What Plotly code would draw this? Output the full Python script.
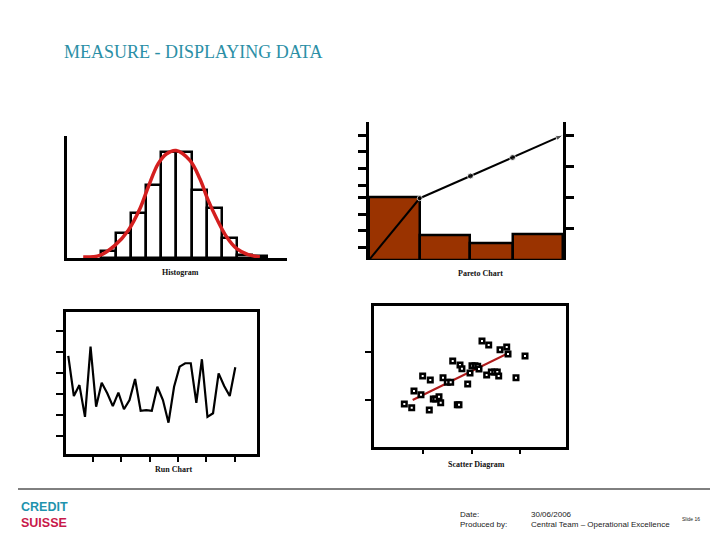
import plotly.graph_objects as go
import numpy as np

W, H = 720, 540

# ---------------- data ----------------
# Histogram
hist_bins = [0.5, 1.5, 2.5, 3.5, 4.5, 5.5, 6.5, 7.5, 8.5, 9.5, 10.5]
hist_freq = [7.5, 25, 45, 73.5, 106.5, 106.5, 68.5, 50, 20, 3.5, 2]
curve_x = [-1.15, -0.05, 0.94, 1.82, 2.59, 3.14, 3.80, 4.36, 4.97, 5.89, 6.55, 7.10, 7.66, 8.32, 8.98, 9.74, 10.51]
curve_y = [1, 2.6, 12.6, 27.6, 49.3, 71, 94.3, 104.3, 107.5, 97.6, 79.3, 57.6, 39.3, 21, 9.3, 3.3, 1]

# Pareto
pareto_counts = [50, 20, 13.4, 20.6]
pareto_cum_pct = [0, 49.4, 67.2, 82, 100]
pareto_left_ticks = [9.8, 23.4, 36.8, 49.8, 60, 73.4, 86.6, 100]
pareto_right_ticks = [25, 50, 75, 100]

# Run chart
run_y = [4.80, 2.89, 3.41, 1.90, 5.24, 2.38, 3.52, 3.02, 2.41, 3.05, 2.26, 2.70, 3.70,
         2.19, 2.22, 2.19, 3.33, 2.70, 1.62, 3.33, 4.29, 4.45, 4.45, 2.57, 4.64, 1.90,
         2.07, 3.97, 3.37, 2.89, 4.26]
run_ticks_y = [1, 2, 3, 4, 5, 6]

# Scatter
sc_x = [0.607, 0.76, 0.807, 0.952, 0.987, 1.124, 1.145, 1.207, 1.257, 1.325, 1.36, 1.408,
        1.497, 1.567, 1.609, 1.704, 1.739, 1.76, 1.80, 1.919, 1.967, 2.008, 2.07, 2.126,
        2.153, 2.215, 2.312, 2.354, 2.408, 2.478, 2.532, 2.561, 2.588, 2.727, 2.754, 2.919, 3.106]
sc_y = [0.917, 0.84, 1.186, 1.11, 1.497, 0.793, 1.414, 1.021, 1.021, 1.069, 0.945, 1.462,
        1.366, 1.366, 1.807, 0.903, 0.903, 1.725, 1.648, 1.331, 1.559, 1.711, 1.711, 1.697,
        1.642, 2.222, 1.518, 2.139, 1.580, 1.580, 1.580, 1.497, 2.041, 2.097, 1.952, 1.462, 1.911]
fit_x = [0.78, 2.80]
fit_y = [1.0, 1.99]

# Texts
title_text = "MEASURE - DISPLAYING DATA"
chart_labels = ["Histogram", "Pareto Chart", "Run Chart", "Scatter Diagram"]

# ---------------- helpers ----------------
def px_x(p):
    return p / W

def px_y(p):
    return 1 - p / H

BLACK = "#000000"
fig = go.Figure()

# Histogram
fig.add_trace(go.Bar(x=hist_bins, y=hist_freq, width=1, marker=dict(color="white", line=dict(color=BLACK, width=2.5)),
                     xaxis="x", yaxis="y", showlegend=False))
fig.add_trace(go.Scatter(x=curve_x, y=curve_y, mode="lines", line=dict(color="#d41f1f", width=3.5, shape="spline"),
                         xaxis="x", yaxis="y", showlegend=False))

# Pareto
p_widths = [1.0, 1.0, 0.83, 1.0]
p_edges = np.concatenate([[0], np.cumsum(p_widths)])
p_centers = (p_edges[:-1] + p_edges[1:]) / 2
fig.add_trace(go.Bar(x=p_centers, y=pareto_counts, width=p_widths,
                     marker=dict(color="#9a3300", line=dict(color=BLACK, width=2.5)),
                     xaxis="x2", yaxis="y2", showlegend=False))
sym = ["circle"] * (len(pareto_cum_pct) - 1) + ["arrow"]
fig.add_trace(go.Scatter(x=p_edges, y=pareto_cum_pct, mode="lines+markers",
                         line=dict(color=BLACK, width=2),
                         marker=dict(color=BLACK, size=[5, 5, 6, 6, 8], symbol=sym, angleref="previous"),
                         xaxis="x2", yaxis="y4", showlegend=False))

# Run chart
fig.add_trace(go.Scatter(x=list(range(len(run_y))), y=run_y, mode="lines",
                         line=dict(color=BLACK, width=2.2), xaxis="x3", yaxis="y6", showlegend=False))

# Scatter
fig.add_trace(go.Scatter(x=fit_x, y=fit_y, mode="lines", line=dict(color="#b01c1c", width=2.2),
                         xaxis="x4", yaxis="y7", showlegend=False))
fig.add_trace(go.Scatter(x=sc_x, y=sc_y, mode="markers",
                         marker=dict(symbol="square", size=4.5, color="white", line=dict(color=BLACK, width=2.5)),
                         xaxis="x4", yaxis="y7", showlegend=False))

noax = dict(showgrid=False, zeroline=False, showticklabels=False, ticks="")

p_ymax = (260 - 122.3) / 1.25

fig.update_layout(
    width=W, height=H, margin=dict(l=0, r=0, t=0, b=0),
    paper_bgcolor="white", plot_bgcolor="rgba(0,0,0,0)",
    bargap=0,
    # Histogram
    xaxis=dict(domain=[px_x(67), px_x(286.7)], range=[-2.22, 12.28], anchor="y",
               showline=True, linewidth=3, linecolor=BLACK, **noax),
    yaxis=dict(domain=[px_y(258), px_y(136)], range=[0, 122], anchor="x",
               showline=True, linewidth=3, linecolor=BLACK, **noax),
    # Pareto
    xaxis2=dict(domain=[px_x(369), px_x(563.3)], range=[0, p_edges[-1]], anchor="y2",
                showline=False, **noax),
    yaxis2=dict(domain=[px_y(260), px_y(122.3)], range=[0, p_ymax], anchor="x2",
                showline=True, linewidth=2.5, linecolor=BLACK, showgrid=False, zeroline=False,
                showticklabels=False, ticks="outside", ticklen=8, tickwidth=2.5, tickcolor=BLACK,
                tickmode="array", tickvals=pareto_left_ticks),
    yaxis3=dict(domain=[px_y(260), px_y(122.3)], range=[0, p_ymax], anchor="x2", overlaying="y2",
                showline=False, showgrid=False, zeroline=False,
                showticklabels=False, ticks="inside", ticklen=8, tickwidth=2.5, tickcolor=BLACK,
                tickmode="array", tickvals=pareto_left_ticks),
    yaxis4=dict(domain=[px_y(260), px_y(122.3)], range=[0, p_ymax], anchor="x2", overlaying="y2", side="right",
                showline=True, linewidth=2.5, linecolor=BLACK, showgrid=False, zeroline=False,
                showticklabels=False, ticks="outside", ticklen=8, tickwidth=2.5, tickcolor=BLACK,
                tickmode="array", tickvals=pareto_right_ticks),
    yaxis5=dict(domain=[px_y(260), px_y(122.3)], range=[0, p_ymax], anchor="x2", overlaying="y2", side="right",
                showline=False, showgrid=False, zeroline=False,
                showticklabels=False, ticks="inside", ticklen=8, tickwidth=2.5, tickcolor=BLACK,
                tickmode="array", tickvals=pareto_right_ticks),
    # Run chart
    xaxis3=dict(domain=[px_x(65.5), px_x(257.3)], range=[-0.5, 33.95], anchor="y6",
                showline=True, mirror=True, linewidth=2.5, linecolor=BLACK, showgrid=False, zeroline=False,
                showticklabels=False, ticks="outside", ticklen=5, tickwidth=2, tickcolor=BLACK,
                tick0=4.4, dtick=5.1),
    yaxis6=dict(domain=[px_y(454), px_y(312)], range=[0.13, 6.89], anchor="x3",
                showline=True, mirror=True, linewidth=2.5, linecolor=BLACK, showgrid=False, zeroline=False,
                showticklabels=False, ticks="outside", ticklen=7, tickwidth=2, tickcolor=BLACK,
                tickmode="array", tickvals=run_ticks_y),
    # Scatter
    xaxis4=dict(domain=[px_x(373.5), px_x(565.5)], range=[-0.031, 3.944], anchor="y7",
                showline=True, mirror=True, linewidth=2.5, linecolor=BLACK, showgrid=False, zeroline=False,
                showticklabels=False, ticks="outside", ticklen=5, tickwidth=2, tickcolor=BLACK,
                tickmode="array", tickvals=[1, 2, 3]),
    yaxis7=dict(domain=[px_y(446.5), px_y(306)], range=[0.037, 2.946], anchor="x4",
                showline=True, mirror=True, linewidth=2.5, linecolor=BLACK, showgrid=False, zeroline=False,
                showticklabels=False, ticks="outside", ticklen=6, tickwidth=2, tickcolor=BLACK,
                tickmode="array", tickvals=[1, 2]),
)

ann = []
ann.append(dict(text=title_text, x=px_x(62), y=px_y(52), xref="paper", yref="paper",
                xanchor="left", yanchor="middle", showarrow=False,
                font=dict(family="Liberation Serif", size=18, color="#2b8fa6")))
label_pos = [(180, 272.7), (480, 273), (173, 469), (476.7, 464.3)]
for t, (lx, ly) in zip(chart_labels, label_pos):
    ann.append(dict(text="<b>" + t + "</b>", x=px_x(lx), y=px_y(ly), xref="paper", yref="paper",
                    xanchor="center", yanchor="middle", showarrow=False,
                    font=dict(family="Liberation Serif", size=8, color="#111")))
# footer logo
ann.append(dict(text="<span style='color:#1f93ad'><b>CREDIT</b></span><br><span style='color:#c8194a'><b>SUISSE</b></span>",
                x=px_x(19), y=px_y(514.5), xref="paper", yref="paper", align="left",
                xanchor="left", yanchor="middle", showarrow=False,
                font=dict(family="Liberation Sans", size=12.5, color="#1f93ad")))
footer = [("Date:", 458, 514), ("Produced by:", 458, 524), ("30/06/2006", 529, 514),
          ("Central Team – Operational Excellence", 529, 524)]
for t, fx, fy in footer:
    ann.append(dict(text=t, x=px_x(fx), y=px_y(fy), xref="paper", yref="paper",
                    xanchor="left", yanchor="middle", showarrow=False,
                    font=dict(family="Liberation Sans", size=8, color="#222")))
ann.append(dict(text="Slide 16", x=px_x(680), y=px_y(519), xref="paper", yref="paper",
                xanchor="left", yanchor="middle", showarrow=False,
                font=dict(family="Liberation Sans", size=5, color="#222")))
fig.update_layout(annotations=ann)

fig.add_shape(type="line", xref="paper", yref="paper", x0=px_x(18), x1=px_x(710), y0=px_y(489), y1=px_y(489),
              line=dict(color=BLACK, width=1))

fig.write_html("out.html")
